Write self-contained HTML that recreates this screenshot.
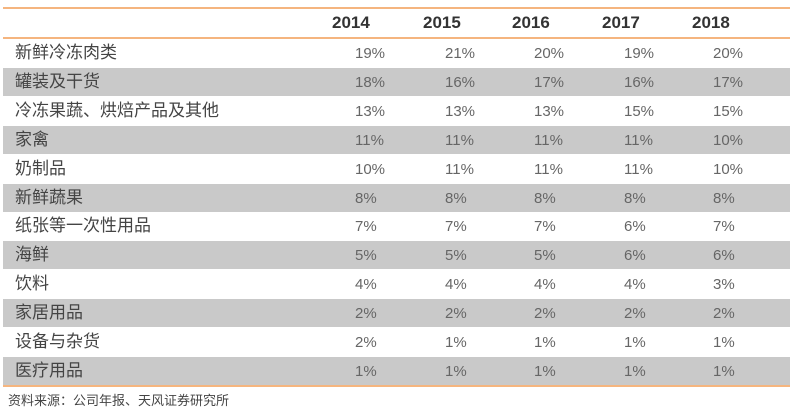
<!DOCTYPE html>
<html><head><meta charset="utf-8"><style>
body{margin:0;width:795px;height:417px;background:#fff;font-family:"Liberation Sans","Noto Sans CJK SC",sans-serif;position:relative;overflow:hidden}
.l{position:absolute;left:3px;width:787px;height:2px;background:#f5b57f}
.r{position:absolute;left:3px;width:787px;height:28px}
.g{background:#c9c9c9}
.n{position:absolute;left:12px;top:3px;font-size:17px;color:#444;line-height:22px}
.v{position:absolute;top:4px;font-size:15px;color:#666;line-height:22px}
.h{position:absolute;top:13px;font-size:17px;font-weight:bold;color:#333}
.f{position:absolute;left:8px;top:390px;font-size:13px;color:#444}
</style></head><body>
<div class="l" style="top:7px"></div>
<div class="h" style="left:332px">2014</div>
<div class="h" style="left:423px">2015</div>
<div class="h" style="left:512px">2016</div>
<div class="h" style="left:602px">2017</div>
<div class="h" style="left:692px">2018</div>
<div class="l" style="top:37px"></div>
<div id="t"></div>
<script>
var d=[["新鲜冷冻肉类",19,21,20,19,20],["罐装及干货",18,16,17,16,17],["冷冻果蔬、烘焙产品及其他",13,13,13,15,15],["家禽",11,11,11,11,10],["奶制品",10,11,11,11,10],["新鲜蔬果",8,8,8,8,8],["纸张等一次性用品",7,7,7,6,7],["海鲜",5,5,5,6,6],["饮料",4,4,4,4,3],["家居用品",2,2,2,2,2],["设备与杂货",2,1,1,1,1],["医疗用品",1,1,1,1,1]];
var xs=[355,445,534,624,713],h="";
d.forEach(function(r,i){var top=39+i*28.9;h+='<div class="r'+(i%2?' g':'')+'" style="top:'+top+'px"><div class="n">'+r[0]+'</div>';
for(var j=0;j<5;j++)h+='<div class="v" style="left:'+(xs[j]-3)+'px">'+r[j+1]+'%</div>';h+='</div>';});
document.getElementById('t').innerHTML=h;
</script>
<div class="l" style="top:385px"></div>
<div class="f">资料来源：公司年报、天风证券研究所</div>
</body></html>
